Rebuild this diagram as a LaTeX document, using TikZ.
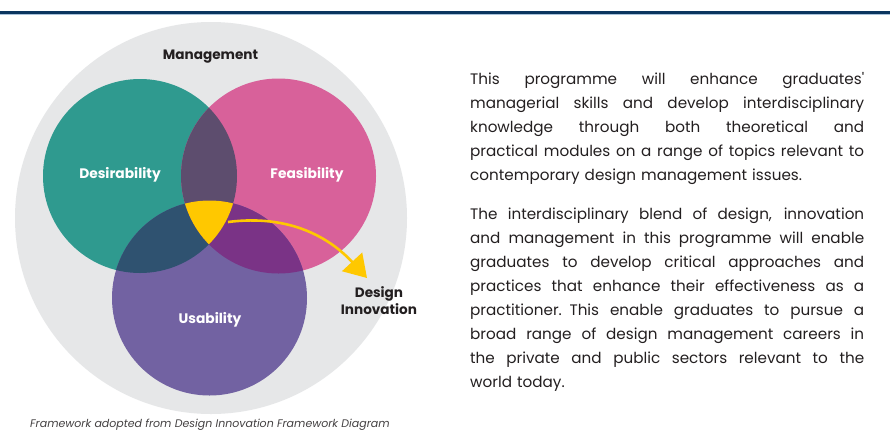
\documentclass[tikz,border=0pt]{standalone}
\usepackage{fontspec}
\setmainfont{Poppins}
\usetikzlibrary{arrows.meta}
\definecolor{navy}{HTML}{0B355F}
\definecolor{lblue}{HTML}{A9C2DA}
\definecolor{mgray}{HTML}{E6E7E8}
\definecolor{teal}{HTML}{2F9A8F}
\definecolor{pinkc}{HTML}{D8619A}
\definecolor{purp}{HTML}{7262A2}
\definecolor{tp}{HTML}{5D4D6E}
\definecolor{tu}{HTML}{2F5270}
\definecolor{pu}{HTML}{7A3386}
\definecolor{yel}{HTML}{FFC800}
\definecolor{txt}{HTML}{231F20}
\tikzset{
  lab/.style={font=\bfseries\fontsize{13.8}{15}\selectfont, text=white, inner sep=0pt, anchor=base},
  blab/.style={font=\bfseries\fontsize{13.6}{17}\selectfont, text=txt, inner sep=0pt, align=center, anchor=base},
  para/.style={font=\fontsize{15.2}{24}\selectfont, text=txt, inner sep=0pt, anchor=north west, text width=394pt, align=left},
}
\newcommand{\jl}[1]{\makebox[394pt][s]{\spaceskip=\fontdimen2\font plus 1fil\relax #1}}
\begin{document}
\begin{tikzpicture}[x=1pt,y=-1pt]
\useasboundingbox (0,0) rectangle (890,432);
\fill[white] (0,0) rectangle (890,432);
\fill[navy] (0,11) rectangle (890,14);
\fill[lblue] (0,14) rectangle (890,15.2);
% circles
\fill[mgray] (211,218) circle (196);
\fill[teal] (140,176) circle (97);
\fill[pinkc] (278.5,176) circle (97.5);
\fill[purp] (209.5,298) circle (97.5);
\begin{scope}
  \clip (140,176) circle (97);
  \fill[tp] (278.5,176) circle (97.5);
  \fill[tu] (209.5,298) circle (97.5);
\end{scope}
\begin{scope}
  \clip (278.5,176) circle (97.5);
  \fill[pu] (209.5,298) circle (97.5);
\end{scope}
\begin{scope}
  \clip (140,176) circle (97);
  \clip (278.5,176) circle (97.5);
  \fill[yel] (209.5,298) circle (97.5);
\end{scope}
% labels
\node[blab] (mgmt) at (210.5,59.5) {Management};
\node[lab] (des) at (120,178) {Desirability};
\node[lab] (fea) at (307,178) {Feasibility};
\node[lab] (usa) at (210,323) {Usability};
\node[blab] (di1) at (379,297) {Design};
\node[blab] (di2) at (379,314) {Innovation};
% arrow
\coordinate (ys) at (228,222);
\coordinate (tip) at (367,278);
\draw[yel, line width=2.6pt, -{Triangle[length=22pt,width=27pt]}] (ys) .. controls (290,214) and (330,238) .. (tip);
% caption
\node[font=\itshape\fontsize{11}{12}\selectfont, text=txt!85, anchor=base west, inner sep=0pt] (cap) at (30,427.5) {Framework adopted from Design Innovation Framework Diagram};
% paragraphs
\node[para] (p1) at (470,72) {%
\jl{This programme will enhance graduates\textquotesingle}\\
\jl{managerial skills and develop interdisciplinary}\\
\jl{knowledge through both theoretical and}\\
\jl{practical modules on a range of topics relevant to}\\
contemporary design management issues.};
\node[para] (p2) at (470,208) {%
\jl{The interdisciplinary blend of design, innovation}\\
\jl{and management in this programme will enable}\\
\jl{graduates to develop critical approaches and}\\
\jl{practices that enhance their effectiveness as a}\\
\jl{practitioner. This enable graduates to pursue a}\\
\jl{broad range of design management careers in}\\
\jl{the private and public sectors relevant to the}\\
world today.};
\end{tikzpicture}
\end{document}
